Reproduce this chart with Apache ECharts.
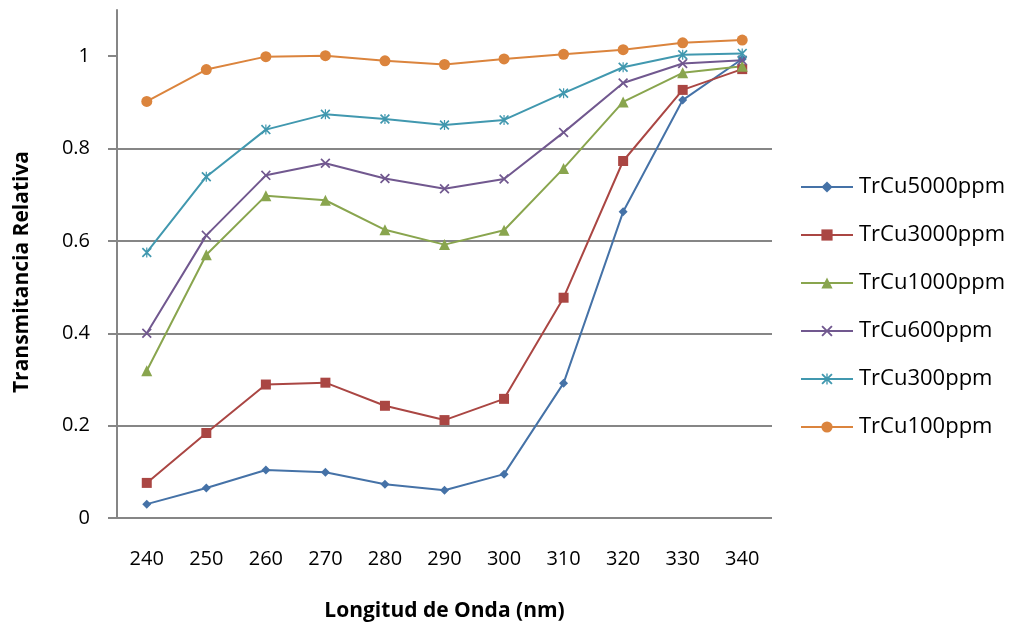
<!DOCTYPE html>
<html><head><meta charset="utf-8">
<script src="https://cdn.jsdelivr.net/npm/echarts@6/dist/echarts.min.js"></script>
<style>html,body{margin:0;padding:0;background:#fff}#c{width:1010px;height:628px}</style>
</head><body><div id="c"></div>
<script>
const categories = ['240','250','260','270','280','290','300','310','320','330','340'];
const yTicks = [0, 0.2, 0.4, 0.6, 0.8, 1];
const seriesNames = ['TrCu5000ppm','TrCu3000ppm','TrCu1000ppm','TrCu600ppm','TrCu300ppm','TrCu100ppm'];
const trCu5000 = [0.030, 0.065, 0.104, 0.099, 0.073, 0.060, 0.095, 0.292, 0.663, 0.905, 0.994];
const trCu3000 = [0.076, 0.184, 0.289, 0.293, 0.243, 0.212, 0.258, 0.477, 0.773, 0.927, 0.972];
const trCu1000 = [0.319, 0.570, 0.698, 0.688, 0.624, 0.592, 0.623, 0.757, 0.901, 0.964, 0.978];
const trCu600  = [0.400, 0.612, 0.742, 0.768, 0.735, 0.713, 0.734, 0.835, 0.942, 0.984, 0.991];
const trCu300  = [0.575, 0.739, 0.841, 0.874, 0.864, 0.851, 0.862, 0.920, 0.976, 1.003, 1.006];
const trCu100  = [0.902, 0.971, 0.999, 1.001, 0.990, 0.982, 0.994, 1.004, 1.014, 1.029, 1.035];

const colors = ['#4572A7','#AA4643','#89A54E','#71588F','#4198AF','#DB843D'];
const xSym = 'path://M0,1.2 L1.2,0 L5,3.8 L8.8,0 L10,1.2 L6.2,5 L10,8.8 L8.8,10 L5,6.2 L1.2,10 L0,8.8 L3.8,5 Z';
const starSym = 'path://M0,1.2 L1.2,0 L5,3.8 L8.8,0 L10,1.2 L6.2,5 L10,8.8 L8.8,10 L5,6.2 L1.2,10 L0,8.8 L3.8,5 Z M4.4,0 L5.6,0 L5.6,10 L4.4,10 Z';
const symbols = ['diamond','rect','triangle',xSym,starSym,'circle'];
const sizes = [9, 10, 11, 10, 10, 11];
const data = [trCu5000, trCu3000, trCu1000, trCu600, trCu300, trCu100];
const font = '"Open Sans", sans-serif';

const chart = echarts.init(document.getElementById('c'), null, {renderer:'canvas'});
chart.setOption({
  animation: false,
  color: colors,
  textStyle: {fontFamily: font},
  grid: {left: 117, right: 238, top: 10, bottom: 110, containLabel: false},
  legend: {
    orient: 'vertical', left: 795, top: 170, itemGap: 24,
    itemWidth: 52, itemHeight: 14,
    textStyle: {fontSize: 22, lineHeight: 24, color: '#000', fontFamily: font, padding: [0,0,0,1]},
    data: seriesNames
  },
  xAxis: {
    type: 'category', data: categories, boundaryGap: true,
    name: 'Longitud de Onda (nm)', nameLocation: 'middle', nameGap: 83,
    nameTextStyle: {fontSize: 21, fontWeight: 'bold', color: '#000', fontFamily: font},
    axisLine: {show: false},
    axisTick: {show: false},
    axisLabel: {fontSize: 20, color: '#000', margin: 31, fontFamily: font}
  },
  yAxis: {
    type: 'value', min: 0, max: 1.1,
    name: 'Transmitancia Relativa', nameLocation: 'middle', nameGap: 84,
    nameTextStyle: {fontSize: 21, fontWeight: 'bold', color: '#000', fontFamily: font, padding: [0, 16, 0, 0]},
    axisLine: {show: true, lineStyle: {color: '#868686', width: 2}},
    axisTick: {show: true, length: 9, customValues: yTicks, lineStyle: {color: '#868686', width: 2}},
    axisLabel: {fontSize: 20, color: '#000', margin: 27, customValues: yTicks, fontFamily: font,
      formatter: v => (Math.abs(v - Math.round(v*5)/5) < 1e-9 ? String(+v.toFixed(1)) : '')},
    splitLine: {show: true, showMaxLine: false, lineStyle: {color: '#868686', width: 2}}
  },
  series: seriesNames.map((n, i) => ({
    name: n, type: 'line', data: data[i],
    symbol: symbols[i], symbolSize: sizes[i], showAllSymbol: true,
    lineStyle: {width: 2, color: colors[i]},
    itemStyle: {color: colors[i]}
  }))
});
</script>
</body></html>
